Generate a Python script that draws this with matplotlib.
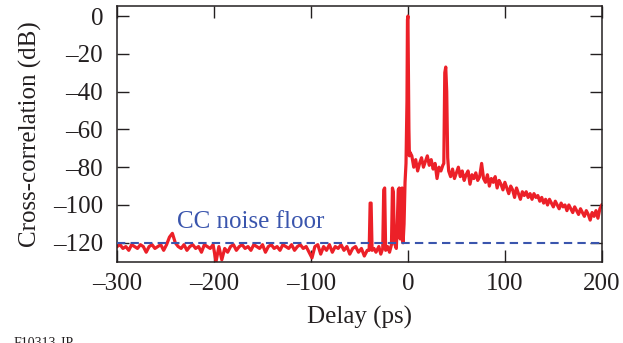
"""
Cross-correlation trace vs delay, with the CC noise floor marked.
"""
import matplotlib
matplotlib.use("Agg")
import matplotlib.pyplot as plt
import numpy as np

plt.rcParams["font.family"] = ["Liberation Serif", "DejaVu Serif"]

# floor region, sampled every 3 ps from -300 to -42
floor_delay = np.arange(-300, -41, 3)
floor_db = [
    -122, -121, -123, -122, -124, -121, -122, -123, -121, -122,
    -125, -122, -121, -123, -122, -121, -124, -121, -117, -115,
    -120, -122, -123, -121, -124, -122, -121, -123, -122, -125,
    -121, -122, -123, -121, -130, -122, -129, -123, -125, -122,
    -121, -124, -122, -121, -123, -122, -124, -121, -122, -123,
    -121, -125, -122, -121, -123, -122, -124, -121, -122, -123,
    -121, -124, -122, -121, -123, -122, -125, -128, -122, -121,
    -126, -122, -124, -121, -125, -122, -123, -121, -124, -122,
    -126, -123, -122, -125, -123, -127, -124,
]

# satellite spikes and main peak
peak_delay = [
    -40, -39, -38, -37, -35, -33, -30, -28, -26, -25, -24, -23, -21, -19,
    -17, -16, -15, -14, -12, -11, -10, -9, -8, -7, -6, -5, -4, -3, -2,
    -1, -0.5, 0, 0.5, 1, 1.5,
    2, 4, 6, 8, 10, 12, 14, 16, 18, 20, 22, 24, 26, 28, 30, 32, 34, 36,
    37, 38, 39, 40, 41,
]
peak_db = [
    -124, -99, -99, -124, -123, -125, -122, -126, -123, -92, -91, -124, -122, -125,
    -121, -91, -93, -120, -123, -110, -92, -91, -118, -92, -91, -120, -110, -88, -78,
    -45, -2, 0, -30, -60, -74,
    -72, -74, -80, -76, -82, -78, -75, -80, -77, -74, -79, -76, -81, -78, -86, -80, -82, -79,
    -78, -30, -27, -40, -75,
]

# slow decay tail, every 2 ps from 42 to 200
tail_delay = np.arange(42, 201, 2)
tail_db = [
    -82, -85, -81, -86, -83, -80, -85, -82, -87, -84,
    -82, -89, -84, -86, -83, -87, -85, -78, -86, -88,
    -84, -90, -86, -88, -85, -91, -87, -89, -92, -88,
    -91, -94, -90, -92, -96, -91, -94, -97, -93, -95,
    -93, -96, -94, -97, -94, -96, -95, -98, -96, -99,
    -97, -100, -97, -99, -101, -98, -100, -102, -99, -101,
    -100, -103, -100, -102, -104, -101, -103, -105, -102, -104,
    -106, -103, -105, -108, -104, -106, -103, -107, -102, -100,
]

noise_floor_db = -120

RED = "#ec2028"
BLUE = "#3a55ad"
INK = "#231f20"


def main():
    delay = np.concatenate([floor_delay, peak_delay, tail_delay])
    cc = np.concatenate([floor_db, peak_db, tail_db])

    fig = plt.figure(figsize=(6.23, 3.43), dpi=100)
    ax = fig.add_axes([0.188, 0.236, 0.778, 0.7465])

    ax.axhline(noise_floor_db, color=BLUE, lw=1.5, ls=(0, (4, 2.5)), zorder=3)
    ax.plot(delay, cc, color=RED, lw=2.3, zorder=2)

    ax.text(-238, -109, "CC noise floor", color=BLUE, fontsize=18,
            ha="left", va="center")

    ax.set_xlim(-300, 200)
    ax.set_ylim(-130.2, 5.3)
    ax.set_xticks([-300, -200, -100, 0, 100, 200])
    ax.set_yticks([0, -20, -40, -60, -80, -100, -120])
    ax.set_xticklabels(["\u2013300", "\u2013200", "\u2013100", "0", "100", "200"])
    ax.set_yticklabels(["0", "\u201320", "\u201340", "\u201360", "\u201380",
                        "\u2013100", "\u2013120"])

    ax.tick_params(direction="in", length=8.5, width=1, colors=INK,
                   labelsize=18, top=True, right=True)
    ax.tick_params(axis="y", pad=10)
    ax.tick_params(axis="x", pad=8)
    for s in ax.spines.values():
        s.set_linewidth(1.1)
        s.set_color(INK)

    ax.set_xlabel("Delay (ps)", fontsize=18, color=INK, labelpad=8)
    ax.set_ylabel("Cross-correlation (dB)", fontsize=18, color=INK, labelpad=8)

    # figure id, partly cut off by the bottom edge as in the source
    fig.text(0.022, 1 - 337 / 343, "F10313-JP", fontsize=10, color=INK,
             ha="left", va="top")

    fig.savefig("out.png", dpi=100)


if __name__ == "__main__":
    main()
